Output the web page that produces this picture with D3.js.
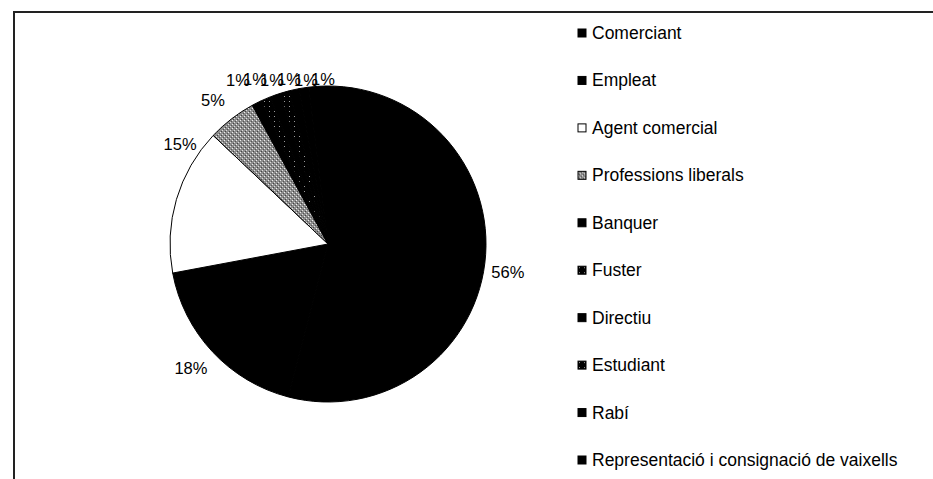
<!DOCTYPE html>
<html lang="ca">
<head>
<meta charset="utf-8">
<title>Professions</title>
<script src="https://d3js.org/d3.v7.min.js"></script>
<style>
  body { margin: 0; background: #fff; }
  text { font-family: "Liberation Sans", Arial, sans-serif; fill: #000; }
</style>
</head>
<body>
<div id="chart"></div>
<script>
// Data
const categories = ["Comerciant", "Empleat", "Agent comercial", "Professions liberals", "Banquer",
  "Fuster", "Directiu", "Estudiant", "Rabí", "Representació i consignació de vaixells"];
const values = [56, 18, 15, 5, 1, 1, 1, 1, 1, 1];
const fills = ["solid", "solid", "white", "light", "solid", "dark", "solid", "dark", "solid", "solid"];

const data = categories.map((c, i) => ({ name: c, value: values[i], fill: fills[i] }));

const width = 933, height = 479;
const cx = 328, cy = 244, r = 158;

// label angle tweaks (degrees), the way the original places them
const labelShift = { "Comerciant": 5, "Agent comercial": 17 };

const svg = d3.select("#chart").append("svg")
  .attr("width", width)
  .attr("height", height);

// Patterns
const defs = svg.append("defs");

const light = defs.append("pattern")
  .attr("id", "light")
  .attr("patternUnits", "userSpaceOnUse")
  .attr("width", 4).attr("height", 4);
light.append("rect").attr("width", 4).attr("height", 4).attr("fill", "#8c8c8c");
[[0, 0, "#eee"], [2, 2, "#ddd"], [1, 3, "#444"], [3, 1, "#555"]].forEach(([x, y, c]) =>
  light.append("rect").attr("x", x).attr("y", y).attr("width", 1).attr("height", 1).attr("fill", c));

const dark = defs.append("pattern")
  .attr("id", "dark")
  .attr("patternUnits", "userSpaceOnUse")
  .attr("width", 5).attr("height", 5);
dark.append("rect").attr("width", 5).attr("height", 5).attr("fill", "#000");
dark.append("rect").attr("x", 1).attr("y", 2).attr("width", 1).attr("height", 1).attr("fill", "#999");

function fillOf(f) {
  if (f === "solid") return "#000";
  if (f === "white") return "#fff";
  return `url(#${f})`;
}

// Frame
svg.append("path")
  .attr("d", `M14,${height} V12 H${width}`)
  .attr("fill", "none")
  .attr("stroke", "#222")
  .attr("stroke-width", 2);

// Pie
const offset = -7 * Math.PI / 180;
const pie = d3.pie()
  .value(d => d.value)
  .sort(null)
  .startAngle(offset)
  .endAngle(offset + 2 * Math.PI);

const arc = d3.arc().innerRadius(0).outerRadius(r);
const arcs = pie(data);

const g = svg.append("g").attr("transform", `translate(${cx},${cy})`);

g.selectAll("path")
  .data(arcs)
  .join("path")
  .attr("d", arc)
  .attr("fill", d => fillOf(d.data.fill))
  .attr("stroke", "#000")
  .attr("stroke-width", 1);

// Labels
const labelR = r + 24;
function labelPos(d) {
  const a = (d.startAngle + d.endAngle) / 2 + (labelShift[d.data.name] || 0) * Math.PI / 180;
  return [Math.sin(a) * labelR, -Math.cos(a) * labelR];
}
const small = arcs.filter(d => d.data.value <= 1);
const firstSmall = labelPos(small[0]);

g.selectAll("text.lbl")
  .data(arcs)
  .join("text")
  .attr("class", "lbl")
  .attr("font-size", 16.5)
  .attr("text-anchor", "middle")
  .attr("dominant-baseline", "central")
  .attr("x", d => {
    if (d.data.value <= 1) return firstSmall[0] - 8 + small.indexOf(d) * 17;
    const [x, y] = labelPos(d);
    if (x > 0) return x;
    return x + (y < -60 && y > -120 ? 4 : -4);
  })
  .attr("y", d => {
    if (d.data.value <= 1) return firstSmall[1] - 2 - (small.indexOf(d) % 2);
    return labelPos(d)[1];
  })
  .text(d => d.data.value + "%");

// Legend
const legendY = d3.scalePoint()
  .domain(categories)
  .range([33, 460]);

const legend = svg.append("g")
  .selectAll("g")
  .data(data)
  .join("g")
  .attr("transform", d => `translate(578,${legendY(d.name)})`);

legend.append("rect")
  .attr("x", 0)
  .attr("y", -4)
  .attr("width", 8)
  .attr("height", 8)
  .attr("fill", d => fillOf(d.fill))
  .attr("stroke", "#000")
  .attr("stroke-width", 1);

legend.append("text")
  .attr("x", 14)
  .attr("y", 0)
  .attr("dominant-baseline", "central")
  .attr("font-size", 17.5)
  .text(d => d.name);
</script>
</body>
</html>
